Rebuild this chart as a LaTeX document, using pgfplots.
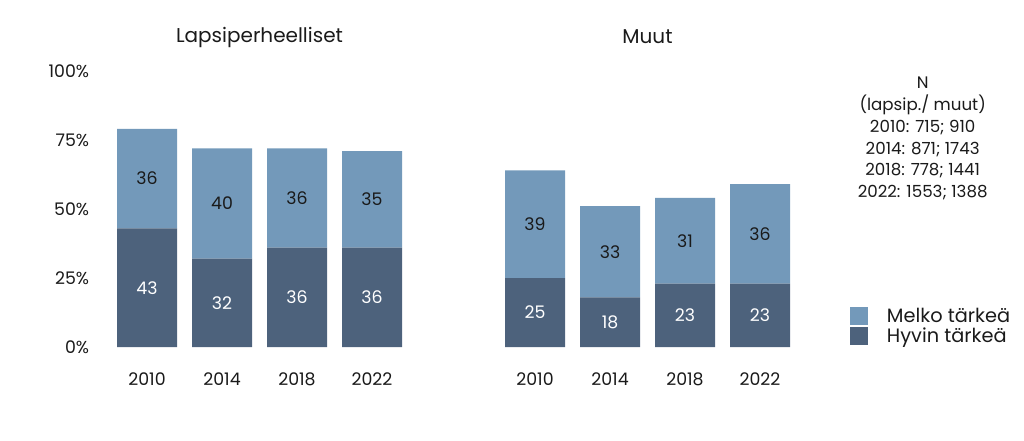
\documentclass[border=0pt]{standalone}
\usepackage{pgfplots}
\pgfplotsset{compat=1.18}
\usepackage{pgfplotstable}
\usepackage{fontspec}
\setmainfont{Poppins}
\definecolor{lightb}{HTML}{7399BA}
\definecolor{darkb}{HTML}{4D627C}
\definecolor{txt}{HTML}{1A1A1A}

\pgfplotstableread{
x dark light
0 43 36
1 32 40
2 36 36
3 36 35
}\lapsi
\pgfplotstableread{
x dark light
0 25 39
1 18 33
2 23 31
3 23 36
}\muut

\pgfplotsset{
  mybars/.style={
    ybar stacked,
    x=56.25pt, y=2.07pt,
    bar width=45pt,
    xmin=-0.5, xmax=3.5, ymin=0, ymax=100,
    axis line style={draw=none},
    tick style={draw=none},
    enlargelimits=false,
    clip=false,
    xtick={0,1,2,3},
    xticklabels={2010,2014,2018,2022},
    font=\fontsize{13}{15}\selectfont,
    tick label style={font=\fontsize{13}{15}\selectfont, text=txt},
    xticklabel style={yshift=-16pt},
    major tick length=0pt,
    anchor=south west,
    title style={font=\fontsize{15}{17}\selectfont, text=txt, anchor=center},
  },
  darkplot/.style={
    fill=darkb, draw=none,
    nodes near coords, point meta=explicit symbolic,
    every node near coord/.append style={anchor=center, text=white,
      font=\fontsize{13}{15}\selectfont},
  },
  lightplot/.style={
    fill=lightb, draw=none,
    nodes near coords, point meta=explicit symbolic,
    every node near coord/.append style={anchor=center, text=txt,
      font=\fontsize{13}{15}\selectfont},
  },
}

\begin{document}
\begin{tikzpicture}
\useasboundingbox (0,0) rectangle (768pt,330pt);

\begin{axis}[mybars,
  at={(82.125pt,69.75pt)},
  ytick={0,25,50,75,100},
  yticklabels={0\%,25\%,50\%,75\%,100\%},
  yticklabel style={xshift=-11.75pt},
  title={Lapsiperheelliset},
  title style={at={(axis description cs:0.5,1)}, yshift=19.5pt},
]
\addplot[darkplot] table[x=x, y=dark, meta=dark] {\lapsi};
\addplot[lightplot] table[x=x, y=light, meta=light] {\lapsi};
\end{axis}

\begin{axis}[mybars,
  at={(373.125pt,69.75pt)},
  ytick=\empty,
  title={Muut},
  title style={at={(axis description cs:0.5,1)}, yshift=19.5pt},
  legend style={draw=none, fill=none, at={(axis cs:4.2,15.2)}, anchor=north west,
    font=\fontsize{14.5}{17}\selectfont, text=txt,
    row sep=-1.25pt, inner sep=0pt},
  legend cell align=left,
  reverse legend,
  legend image code/.code={\fill[#1] (0pt,-6.75pt) rectangle (13.5pt,6.75pt);},
  legend style={/tikz/every odd column/.append style={column sep=12pt}},
]
\addplot[darkplot] table[x=x, y=dark, meta=dark] {\muut};
\addlegendentry{Hyvin tärkeä}
\addplot[lightplot] table[x=x, y=light, meta=light] {\muut};
\addlegendentry{Melko tärkeä}
\end{axis}

\node[align=center, text=txt, font=\fontsize{12.5}{16.3}\selectfont] at (692pt,226pt)
  {N\\(lapsip./ muut)\\2010: 715; 910\\2014: 871; 1743\\2018: 778; 1441\\2022: 1553; 1388};
\end{tikzpicture}
\end{document}
